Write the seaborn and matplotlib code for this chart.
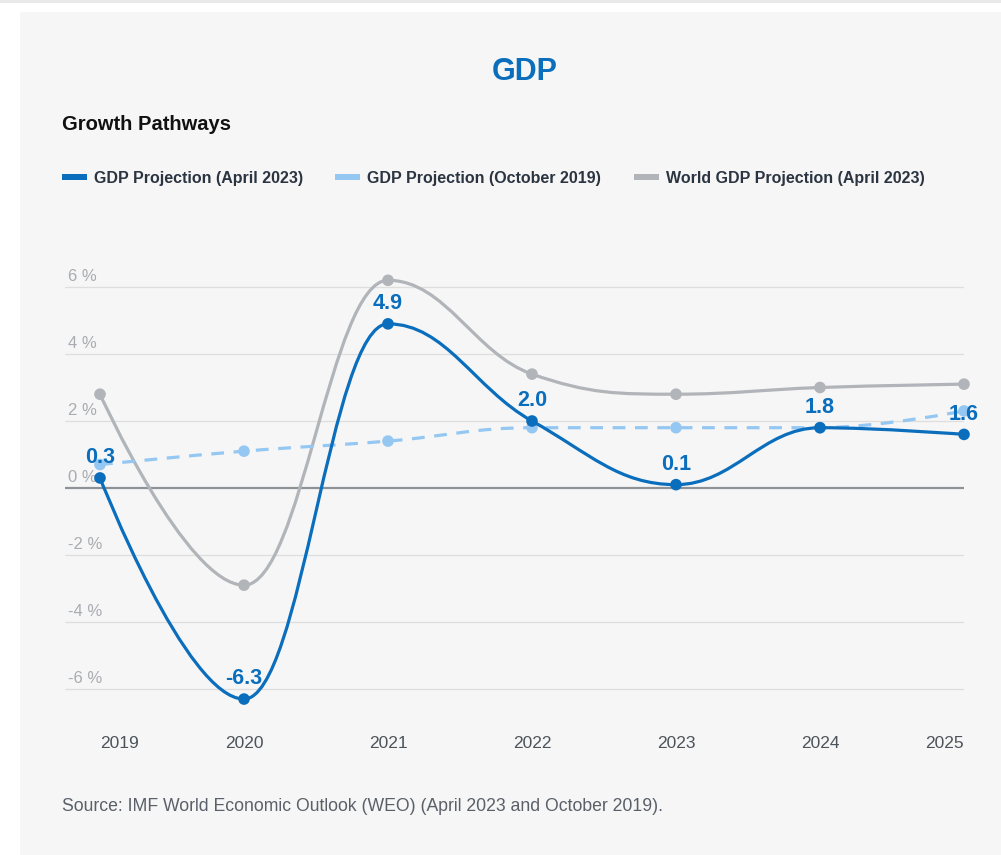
import matplotlib
matplotlib.use("Agg")
import matplotlib.pyplot as plt
import seaborn as sns
import pandas as pd
from matplotlib.path import Path
from matplotlib.patches import PathPatch, Rectangle

# --- data ---
years = [2019, 2020, 2021, 2022, 2023, 2024, 2025]
gdp_apr2023 = [0.3, -6.3, 4.9, 2.0, 0.1, 1.8, 1.6]
gdp_oct2019 = [0.7, 1.1, 1.4, 1.8, 1.8, 1.8, 2.3]
world_apr2023 = [2.8, -2.9, 6.2, 3.4, 2.8, 3.0, 3.1]
y_ticks = [-6, -4, -2, 0, 2, 4, 6]
series_names = ["GDP Projection (April 2023)",
                "GDP Projection (October 2019)",
                "World GDP Projection (April 2023)"]

BLUE = "#0a6ebd"
LIGHT = "#95c7f3"
GREY = "#b1b4b8"


def spline_path(xs, ys, smoothing=1.5):
    """Bezier spline through the points (same rule as a Highcharts spline)."""
    n = len(xs)
    left = [(xs[i], ys[i]) for i in range(n)]
    right = [(xs[i], ys[i]) for i in range(n)]
    den = smoothing + 1
    for i in range(1, n - 1):
        px, py = xs[i], ys[i]
        lx, ly = xs[i - 1], ys[i - 1]
        nx, ny = xs[i + 1], ys[i + 1]
        lcx = (smoothing * px + lx) / den
        lcy = (smoothing * py + ly) / den
        rcx = (smoothing * px + nx) / den
        rcy = (smoothing * py + ny) / den
        corr = 0
        if rcx != lcx:
            corr = (rcy - lcy) * (rcx - px) / (rcx - lcx) + py - rcy
        lcy += corr
        rcy += corr
        if lcy > ly and lcy > py:
            lcy = max(ly, py); rcy = 2 * py - lcy
        elif lcy < ly and lcy < py:
            lcy = min(ly, py); rcy = 2 * py - lcy
        if rcy > ny and rcy > py:
            rcy = max(ny, py); lcy = 2 * py - rcy
        elif rcy < ny and rcy < py:
            rcy = min(ny, py); lcy = 2 * py - rcy
        left[i] = (lcx, lcy)
        right[i] = (rcx, rcy)
    verts = [(xs[0], ys[0])]
    codes = [Path.MOVETO]
    for i in range(1, n):
        verts += [right[i - 1], left[i], (xs[i], ys[i])]
        codes += [Path.CURVE4] * 3
    return Path(verts, codes)


sns.set_theme(style="white")
plt.rcParams["font.family"] = ["Liberation Sans", "DejaVu Sans"]

W, H = 1001, 855
fig = plt.figure(figsize=(W / 100, H / 100), dpi=100)
fig.patch.set_facecolor("white")

# background panel + top strip
fig.patches.append(Rectangle((20 / W, 0), 1, 1 - 12 / H, transform=fig.transFigure,
                             facecolor="#f6f6f6", edgecolor="none", zorder=-10))
fig.patches.append(Rectangle((0, 1 - 3 / H), 1, 3 / H, transform=fig.transFigure,
                             facecolor="#e9e9e9", edgecolor="none", zorder=-10))

ax = fig.add_axes([65 / W, 1 - 712 / H, 899 / W, 472 / H])
ax.set_facecolor("none")
for s in ax.spines.values():
    s.set_visible(False)

ax.set_xlim(2019 - 35 / 144, 2025)
ax.set_ylim((488 - 712) / 33.5, (488 - 240) / 33.5)

# grid
for v in y_ticks:
    if v == 0:
        ax.axhline(0, color="#8e9297", lw=1.6, zorder=1)
    else:
        ax.axhline(v, color="#dedede", lw=0.9, zorder=0)
    ax.annotate(f"{v} %", xy=(0, v), xycoords=("axes fraction", "data"),
                xytext=(2.5, 4.5), textcoords="offset points", ha="left", va="baseline",
                fontsize=12, color="#a9acb1")
ax.set_yticks([])

ax.set_xticks(years, [str(y) for y in years])
ax.tick_params(axis="x", length=0, pad=17, labelsize=12.5, labelcolor="#4d535b")
# edge labels are kept inside the plot width
xlabels = ax.get_xticklabels()
xlabels[0].set_horizontalalignment("left")
xlabels[-1].set_horizontalalignment("right")

# curves
styles = [
    (world_apr2023, GREY, "-", 2),
    (gdp_oct2019, LIGHT, (0, (4, 3)), 3),
    (gdp_apr2023, BLUE, "-", 4),
]
for vals, col, ls, z in styles:
    ax.add_patch(PathPatch(spline_path(years, vals), facecolor="none", edgecolor=col,
                           lw=2.3, linestyle=ls, capstyle="butt", zorder=z, clip_on=False))
    df = pd.DataFrame({"year": years, "value": vals})
    sns.scatterplot(data=df, x="year", y="value", color=col, s=70, edgecolor="none",
                    ax=ax, zorder=z + 0.5, clip_on=False, legend=False)

ax.set_xlabel("")
ax.set_ylabel("")

# data labels
for x, v in zip(years, gdp_apr2023):
    ax.annotate(f"{v:.1f}", xy=(x, v), xytext=(0, 14.5), textcoords="offset points",
                ha="center", va="center", fontsize=15.5, fontweight="bold", color=BLUE,
                zorder=10, annotation_clip=False)

# titles
fig.text(525 / W, 1 - 72 / H, "GDP", ha="center", va="center", fontsize=22,
         fontweight="bold", color=BLUE)
fig.text(62 / W, 1 - 124 / H, "Growth Pathways", ha="left", va="center", fontsize=14.5,
         fontweight="bold", color="#111111")

# legend
leg_y = 177
for (sx, tx), name, col in zip([(62, 94), (335, 367), (634, 666)], series_names,
                               [BLUE, LIGHT, GREY]):
    fig.patches.append(Rectangle((sx / W, 1 - (leg_y + 3) / H), 25 / W, 6 / H,
                                 transform=fig.transFigure, facecolor=col, edgecolor="none"))
    fig.text(tx / W, 1 - (leg_y + 2) / H, name, ha="left", va="center", fontsize=11.5,
             fontweight="bold", color="#2b3441")

fig.text(62 / W, 1 - 806 / H,
         "Source: IMF World Economic Outlook (WEO) (April 2023 and October 2019).",
         ha="left", va="center", fontsize=12.7, color="#5a6069")

fig.savefig("out.png", dpi=100, facecolor=fig.get_facecolor())
